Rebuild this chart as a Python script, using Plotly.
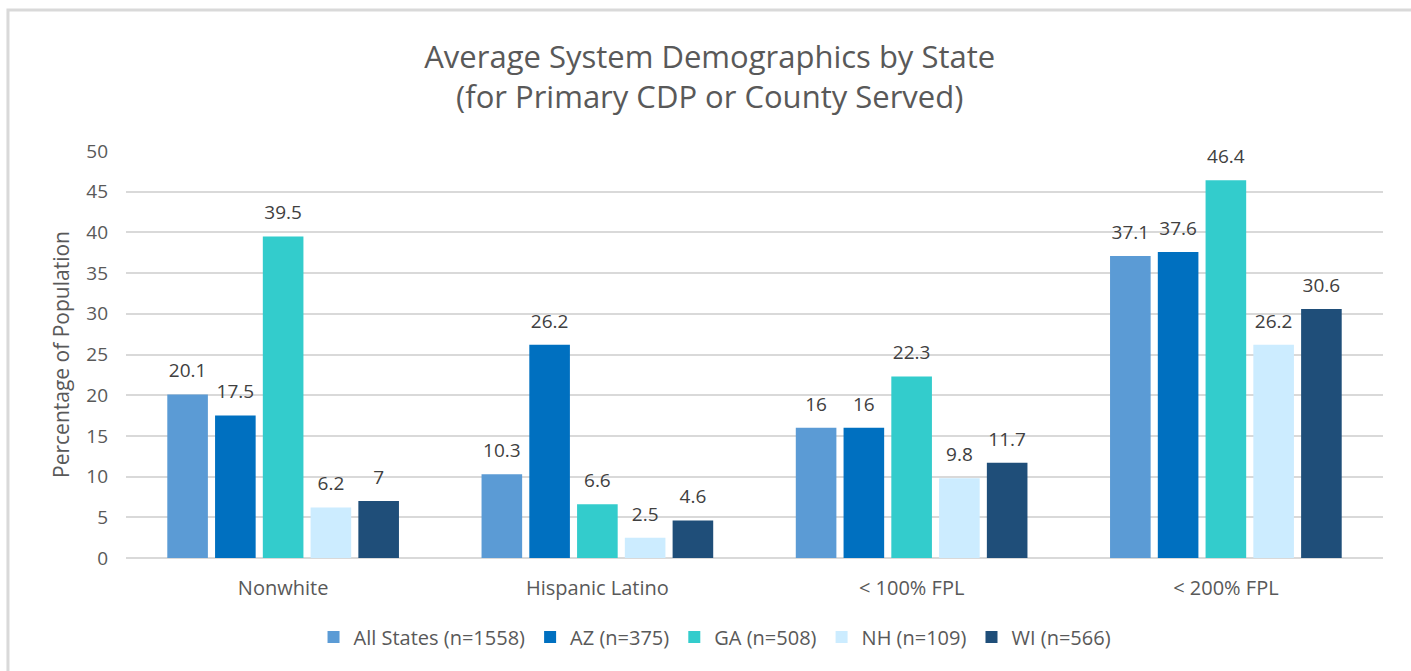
import plotly.graph_objects as go

categories = ["Nonwhite", "Hispanic Latino", "< 100% FPL", "< 200% FPL"]
series_names = ["All States (n=1558)", "AZ (n=375)", "GA (n=508)", "NH (n=109)", "WI (n=566)"]
all_states = [20.1, 10.3, 16, 37.1]
az = [17.5, 26.2, 16, 37.6]
ga = [39.5, 6.6, 22.3, 46.4]
nh = [6.2, 2.5, 9.8, 26.2]
wi = [7, 4.6, 11.7, 30.6]
series_values = [all_states, az, ga, nh, wi]
colors = ["#5B9BD5", "#0070C0", "#33CCCC", "#CCECFF", "#1F4E79"]
y_ticks = [0, 5, 10, 15, 20, 25, 30, 35, 40, 45, 50]

FONT = "Open Sans"
LABEL_GAP = 1.0  # spacing (in axis units) between bar top and its label

fig = go.Figure()
for i, (name, vals, c) in enumerate(zip(series_names, series_values, colors)):
    fig.add_trace(go.Bar(
        x=categories, y=vals, name=name, marker_color=c, marker_line_width=0,
        offsetgroup=str(i), hoverinfo="y+name",
    ))
    # transparent spacer carrying the data label slightly above the bar
    fig.add_trace(go.Bar(
        x=categories, y=[LABEL_GAP] * len(vals), base=vals, offsetgroup=str(i),
        marker_color="rgba(0,0,0,0)", marker_line_width=0, showlegend=False, hoverinfo="skip",
        text=[f"{v:g}" for v in vals], textposition="outside", cliponaxis=False,
        textfont=dict(family=FONT, size=19, color="#404040"),
    ))

fig.update_layout(
    width=1411, height=671,
    margin=dict(l=126, r=28, t=151, b=113),
    paper_bgcolor="white", plot_bgcolor="white",
    barmode="group", bargap=0.24, bargroupgap=0.15,
    title=dict(text="Average System Demographics by State<br>(for Primary CDP or County Served)",
               x=0.503, xanchor="center", xref="container", y=0.899, yanchor="middle",
               font=dict(family=FONT, size=31, color="#595959")),
    font=dict(family=FONT, color="#595959"),
    legend=dict(orientation="h", x=0.4686, xanchor="center", y=-0.194, yanchor="middle",
                font=dict(family=FONT, size=20, color="#595959"), itemwidth=30,
                traceorder="normal"),
    xaxis=dict(showline=False, ticks="", ticklabelstandoff=16,
               tickfont=dict(family=FONT, size=20, color="#595959")),
    yaxis=dict(range=[0, 50], tickvals=y_ticks, showgrid=True, gridcolor="#D9D9D9", gridwidth=2,
               zeroline=True, zerolinecolor="#D9D9D9", zerolinewidth=2,
               tickfont=dict(family=FONT, size=19, color="#595959"), ticklabelstandoff=17,
               title=dict(text="Percentage of Population", font=dict(family=FONT, size=21, color="#595959"),
                          standoff=10)),
    shapes=[dict(type="rect", xref="paper", yref="paper", x0=-0.0939, x1=1.06, y0=-0.4, y1=1.3464,
                 line=dict(color="#D9D9D9", width=3), fillcolor="rgba(0,0,0,0)", layer="below")],
)
fig.write_html("out.html", config={"displayModeBar": False},
               post_script="document.body.style.margin='0px';")
